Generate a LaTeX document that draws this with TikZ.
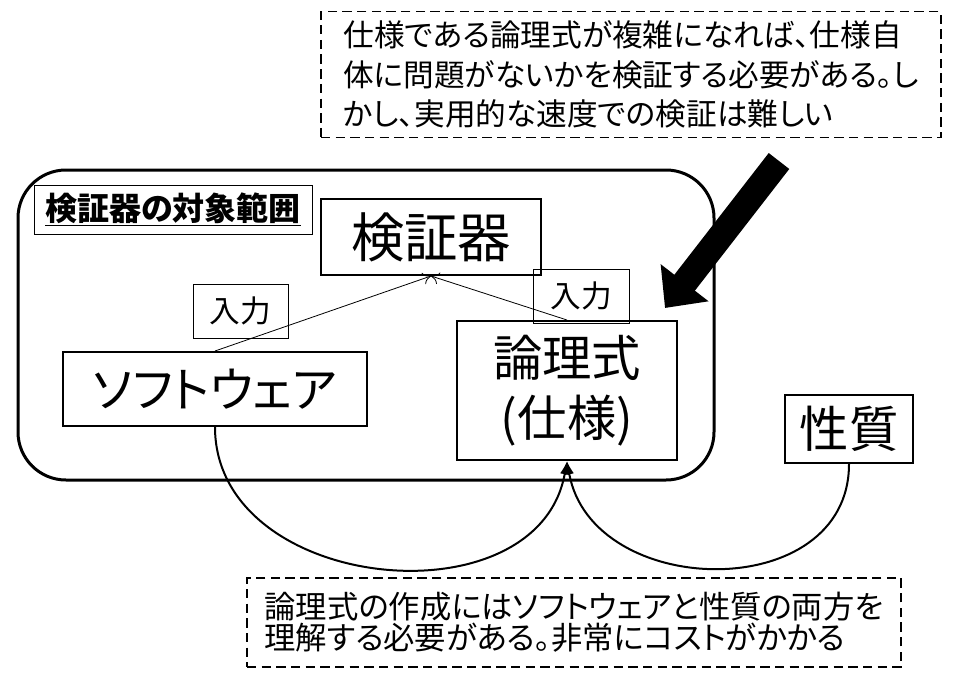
\documentclass[tikz,border=0pt]{standalone}
\usepackage{fontspec}
\setmainfont{Noto Sans CJK JP}[RawFeature=+palt]
\usetikzlibrary{arrows.meta,positioning}

\begin{document}
\begin{tikzpicture}[x=0.75pt,y=-0.75pt,
	box/.style={draw, line width=1.5pt, inner sep=0pt},
	tag/.style={draw, line width=0.6pt, inner sep=0pt},
	memo/.style={draw, line width=0.8pt, dash pattern=on 7pt off 4pt,
	  align=left, inner sep=0pt},
	feed/.style={-{To[length=6pt,width=9pt]}, line width=0.6pt},
	link/.style={-{Latex[length=10pt,width=7pt]}, line width=1.5pt}]
	\useasboundingbox (0,0) rectangle (957,696);
	% notes
	\node[memo, minimum width=465pt, minimum height=94pt,
	  font=\fontsize{23pt}{29.5pt}\selectfont] (issue) at (631,74.5)
	  {仕様である論理式が複雑になれば、仕様自\\体に問題がないかを検証する必要がある。し\\かし、実用的な速度での検証は難しい};
	\node[memo, minimum width=490.5pt, minimum height=66.75pt,
	  font=\fontsize{23.5pt}{23.5pt}\selectfont] (cost) at (574,622.5)
	  {論理式の作成にはソフトウェアと性質の両方を\\理解する必要がある。非常にコストがかかる};
	% range of the checker
	\draw[line width=2.25pt, rounded corners=36pt] (18,170) rectangle (714,480);
	\node[tag, minimum width=208.5pt, minimum height=36.75pt,
	  font=\fontsize{24pt}{28pt}\selectfont\bfseries] (range) at (173,209.5) {\underline{検証器の対象範囲}};
	\node[box, minimum width=165pt, minimum height=57pt,
	  font=\fontsize{40pt}{48pt}\selectfont] (checker) at (431,237) {検証器};
	\node[tag, minimum width=71.25pt, minimum height=40.5pt,
	  font=\fontsize{23pt}{27pt}\selectfont] (inleft) at (240.5,311) {入力};
	\node[tag, minimum width=72pt, minimum height=40.5pt,
	  font=\fontsize{23pt}{27pt}\selectfont] (inright) at (581,296) {入力};
	\node[box, minimum width=228pt, minimum height=55.5pt,
	  font=\fontsize{36pt}{43pt}\selectfont] (soft) at (215,389) {ソフトウェア};
	\node[box, minimum width=165pt, minimum height=104.25pt, align=center,
	  font=\fontsize{37pt}{45pt}\selectfont] (spec) at (567,390.5) {論理式\\(仕様)};
	\node[box, minimum width=96pt, minimum height=51pt,
	  font=\fontsize{37pt}{44pt}\selectfont] (prop) at (849,429) {性質};
	% inputs
	\draw[feed] (soft.north) -- (checker.south);
	\draw[feed] (spec.north) -- (checker.south);
	\draw[link] (soft.south) to[out=-90,in=-100,looseness=1.2] (spec.south);
	\draw[link] (prop.south) to[out=-90,in=-80,looseness=1.28] (spec.south);
	% big arrow
	\coordinate (tail) at (779,161);
	\coordinate (head) at (665,308);
	\draw[line width=19.5pt, -{Triangle[length=24pt 0 0,width=44pt 0 0]}] (tail) -- (head);
\end{tikzpicture}
\end{document}
